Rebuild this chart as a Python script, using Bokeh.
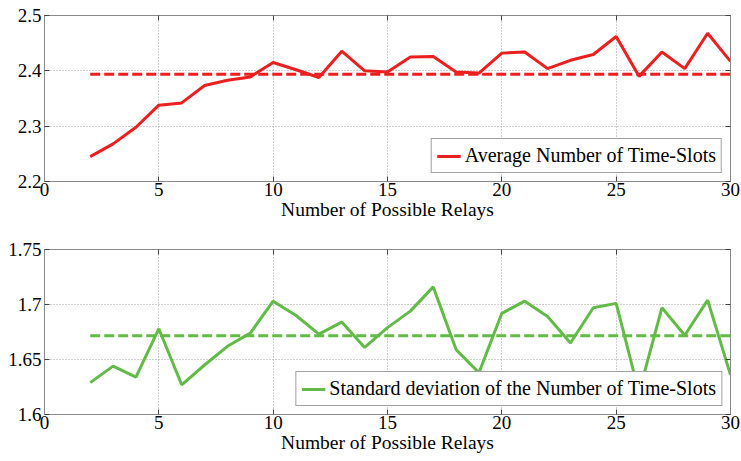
from bokeh.plotting import figure
from bokeh.layouts import column
from bokeh.models import FixedTicker, LinearAxis, Range1d, Legend, LegendItem
from bokeh.embed import file_html
from bokeh.resources import INLINE

# ---------------- data ----------------
relays = list(range(2, 31))
avg_slots = [2.245, 2.268, 2.298, 2.338, 2.342, 2.3735, 2.383, 2.389, 2.415, 2.402,
             2.388, 2.4355, 2.400, 2.398, 2.425, 2.426, 2.398, 2.396, 2.432, 2.434,
             2.404, 2.419, 2.4295, 2.462, 2.390, 2.434, 2.404, 2.468, 2.417]
std_slots = [1.629, 1.644, 1.634, 1.678, 1.627, 1.645, 1.662, 1.674, 1.703, 1.690,
             1.673, 1.684, 1.661, 1.679, 1.694, 1.716, 1.659, 1.638, 1.692, 1.703,
             1.689, 1.665, 1.697, 1.701, 1.620, 1.697, 1.672, 1.704, 1.636]
avg_mean = 2.394
std_mean = 1.6715

x_ticks = [0, 5, 10, 15, 20, 25, 30]
top_ticks = [2.2, 2.3, 2.4, 2.5]
top_tick_labels = ["2.2", "2.3", "2.4", "2.5"]
bot_ticks = [1.6, 1.65, 1.7, 1.75]
bot_tick_labels = ["1.6", "1.65", "1.7", "1.75"]
x_label = "Number of Possible Relays"
top_legend = "Average Number of Time-Slots"
bot_legend = "Standard deviation of the Number of Time-Slots"

RED = "#ec1f1f"
GREEN = "#62bb46"
FONT = "Liberation Serif"
AXIS_GRAY = "#8a8a8a"


def style_axis(ax, ticks, overrides=None, labels=True):
    ax.ticker = FixedTicker(ticks=ticks)
    ax.axis_line_color = AXIS_GRAY
    ax.major_tick_line_color = "#444444"
    ax.major_tick_in = 5
    ax.major_tick_out = 0
    ax.minor_tick_line_color = None
    ax.major_label_text_font = FONT
    ax.major_label_text_color = "black"
    if labels:
        ax.major_label_text_font_size = "19px"
        ax.major_label_standoff = 3
        if overrides:
            ax.major_label_overrides = overrides
    else:
        ax.major_label_text_font_size = "1px"
        ax.major_label_text_alpha = 0
        ax.major_label_standoff = 0


def make_panel(y, mean, color, yr, yticks, ylabels, legend_label, height, btop, bbot):
    p = figure(width=741, height=height, output_backend="svg", toolbar_location=None,
               x_range=Range1d(0, 30), y_range=Range1d(*yr),
               min_border_left=44, min_border_right=11,
               min_border_top=btop, min_border_bottom=bbot)
    p.outline_line_color = AXIS_GRAY
    p.background_fill_color = "white"
    p.border_fill_color = "white"

    style_axis(p.xaxis[0], x_ticks)
    style_axis(p.yaxis[0], yticks, {t: l for t, l in zip(yticks, ylabels)})
    p.xaxis[0].axis_label = x_label
    p.xaxis[0].axis_label_text_font = FONT
    p.xaxis[0].axis_label_text_font_style = "normal"
    p.xaxis[0].axis_label_text_font_size = "19.5px"
    p.xaxis[0].axis_label_text_color = "black"
    p.xaxis[0].axis_label_standoff = 0
    p.xaxis[0].major_label_standoff = 1

    ra = LinearAxis()
    style_axis(ra, yticks, labels=False)
    p.add_layout(ra, "right")
    ta = LinearAxis()
    style_axis(ta, x_ticks, labels=False)
    p.add_layout(ta, "above")

    for g in (p.xgrid[0], p.ygrid[0]):
        g.grid_line_color = "#a0a0a0"
        g.grid_line_dash = "1 2"
        g.grid_line_width = 1
    p.xgrid[0].ticker = FixedTicker(ticks=x_ticks)
    p.ygrid[0].ticker = FixedTicker(ticks=yticks)

    r = p.line(relays, y, line_color=color, line_width=3)
    p.line([relays[0], relays[-1]], [mean, mean], line_color=color, line_width=3,
           line_dash="10 4")

    leg = Legend(items=[LegendItem(label=legend_label, renderers=[r])],
                 location="bottom_right")
    leg.label_text_font = FONT
    leg.label_text_font_size = "20px"
    leg.label_text_color = "black"
    leg.border_line_color = "#444444"
    leg.border_line_width = 1
    leg.background_fill_alpha = 1
    leg.margin = 8
    leg.padding = 5
    leg.glyph_width = 24
    leg.label_standoff = 4
    leg.glyph_height = 18
    leg.label_height = 18
    p.add_layout(leg, "center")
    return p


p1 = make_panel(avg_slots, avg_mean, RED, (2.2, 2.5), top_ticks, top_tick_labels,
                top_legend, 228, 15, 47)
p2 = make_panel(std_slots, std_mean, GREEN, (1.6, 1.75), bot_ticks, bot_tick_labels,
                bot_legend, 232, 21, 46)

layout = column(p1, p2, spacing=0)
open("out.html", "w").write(file_html(layout, INLINE))
